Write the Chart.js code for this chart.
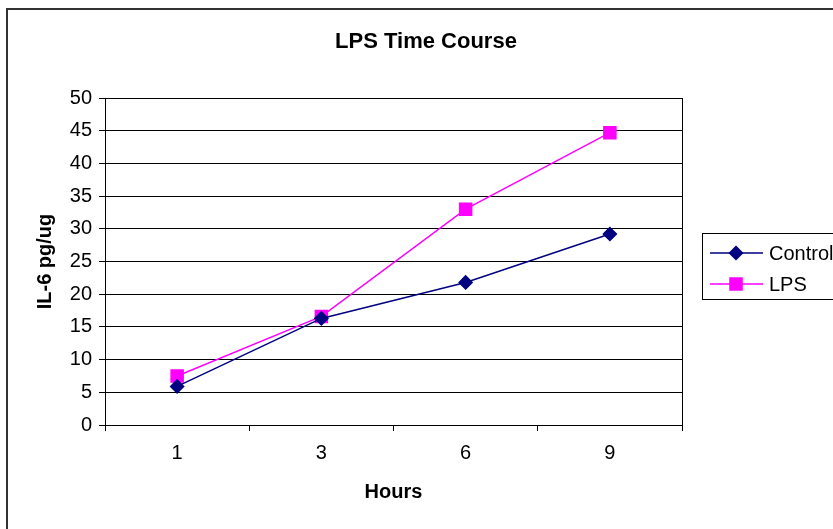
<!DOCTYPE html>
<html>
<head>
<meta charset="utf-8">
<script src="https://cdn.jsdelivr.net/npm/chart.js@4/dist/chart.umd.min.js"></script>
<style>
  html, body { margin: 0; padding: 0; background: #fff; }
  #wrap { width: 833px; height: 529px; }
</style>
</head>
<body>
<div id="wrap"><canvas id="chart1" width="833" height="529"></canvas></div>
<script>
// Data
const hours = ['1', '3', '6', '9'];
const controlValues = [5.9, 16.3, 21.8, 29.2];
const lpsValues = [7.5, 16.6, 33.0, 44.7];
const yTicks = [0, 5, 10, 15, 20, 25, 30, 35, 40, 45, 50];
const chartTitle = 'LPS Time Course';

const FONT = "'Liberation Sans', Arial, sans-serif";

// Frame, title and Excel-style boxed legend
const excelFrame = {
  id: 'excelFrame',
  beforeDraw(chart) {
    const ctx = chart.ctx;
    ctx.save();
    ctx.fillStyle = '#fff';
    ctx.fillRect(0, 0, chart.width, chart.height);
    ctx.restore();
  },
  afterDraw(chart) {
    const ctx = chart.ctx;
    const area = chart.chartArea;
    ctx.save();
    // outer border
    ctx.strokeStyle = '#333';
    ctx.lineWidth = 2;
    ctx.strokeRect(7, 9, 900, 600);
    // plot area right border
    ctx.strokeStyle = '#000';
    ctx.lineWidth = 1;
    ctx.beginPath();
    ctx.moveTo(Math.round(area.right) + 0.5, area.top);
    ctx.lineTo(Math.round(area.right) + 0.5, area.bottom);
    ctx.stroke();

    // title
    ctx.fillStyle = '#000';
    ctx.font = 'bold 22px ' + FONT;
    ctx.textAlign = 'center';
    ctx.textBaseline = 'middle';
    ctx.fillText(chartTitle, 426, 42);

    // legend
    const lx = 702.5, ly = 233.5, lw = 160, lh = 66;
    ctx.strokeRect(lx, ly, lw, lh);
    const rows = [253, 284];
    chart.data.datasets.forEach((ds, i) => {
      const y = rows[i];
      ctx.strokeStyle = ds.borderColor;
      ctx.lineWidth = ds.borderWidth;
      ctx.beginPath();
      ctx.moveTo(710, y);
      ctx.lineTo(763, y);
      ctx.stroke();
      ctx.fillStyle = ds.pointBackgroundColor;
      ctx.strokeStyle = ds.pointBorderColor;
      Chart.helpers.drawPoint(ctx, {
        pointStyle: ds.pointStyle,
        radius: ds.pointRadius,
        borderWidth: 1,
        rotation: 0
      }, 736, y);
      ctx.fillStyle = '#000';
      ctx.font = '20px ' + FONT;
      ctx.textBaseline = 'middle';
      ctx.textAlign = 'left';
      ctx.fillText(ds.label, 769, y + 1);
    });
    ctx.restore();
  }
};

const chartConfig = {
  type: 'line',
  data: {
    labels: hours,
    datasets: [
      {
        label: 'Control',
        data: controlValues,
        borderColor: '#000080',
        backgroundColor: '#000080',
        pointBackgroundColor: '#000080',
        pointBorderColor: '#000080',
        borderWidth: 1.5,
        pointStyle: 'rectRot',
        pointRadius: 6.5,
        pointHoverRadius: 6.5,
        tension: 0,
      },
      {
        label: 'LPS',
        data: lpsValues,
        borderColor: '#FF00FF',
        backgroundColor: '#FF00FF',
        pointBackgroundColor: '#FF00FF',
        pointBorderColor: '#FF00FF',
        borderWidth: 1.5,
        pointStyle: 'rect',
        pointRadius: 8.5,
        pointHoverRadius: 8.5,
        tension: 0,
      },
    ],
  },
  options: {
    responsive: false,
    animation: false,
    layout: { padding: { left: 0, right: 151, top: 98, bottom: 0 } },
    plugins: {
      legend: { display: false },
      tooltip: { enabled: false },
      title: { display: false },
    },
    scales: {
      x: {
        type: 'category',
        offset: true,
        grid: {
          offset: true,
          drawOnChartArea: false,
          drawTicks: true,
          tickLength: 6,
          tickColor: '#000',
        },
        border: { color: '#000', width: 1 },
        ticks: {
          color: '#000',
          font: { family: FONT, size: 20 },
          padding: 10,
          maxRotation: 0,
        },
        title: {
          display: true,
          text: 'Hours',
          color: '#000',
          font: { family: FONT, size: 20, weight: 'bold' },
          padding: { top: 0, bottom: 25 },
        },
        afterFit(scale) { scale.height = 104; },
      },
      y: {
        min: 0,
        max: 50,
        afterBuildTicks(scale) { scale.ticks = yTicks.map(v => ({ value: v })); },
        grid: {
          color: '#000',
          lineWidth: 1,
          drawTicks: true,
          tickLength: 6,
          tickColor: '#000',
        },
        border: { color: '#000', width: 1 },
        ticks: {
          color: '#000',
          font: { family: FONT, size: 20 },
          padding: 7,
        },
        title: {
          display: true,
          text: 'IL-6 pg/ug',
          color: '#000',
          font: { family: FONT, size: 20, weight: 'bold' },
          padding: { top: 33, bottom: 0 },
        },
        afterFit(scale) { scale.width = 105; },
      },
    },
  },
  plugins: [excelFrame],
};

const ctx1 = document.getElementById('chart1').getContext('2d');
new Chart(ctx1, chartConfig);
</script>
</body>
</html>
